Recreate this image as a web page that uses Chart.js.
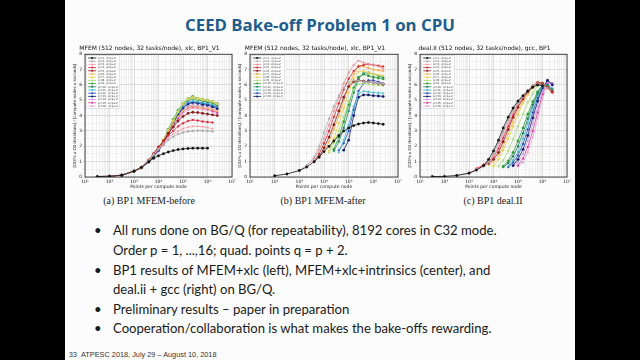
<!DOCTYPE html>
<html><head><meta charset="utf-8">
<script src="https://cdn.jsdelivr.net/npm/chart.js@4.4.1/dist/chart.umd.min.js"></script>
<style>
html,body{margin:0;padding:0;background:#000;width:640px;height:360px;overflow:hidden}
#slide{position:absolute;left:65px;top:0;width:510px;height:360px;background:#fcfcfc}
.cv{position:absolute}
#title{position:absolute;left:65px;width:510px;top:12px;height:26px;line-height:26px;text-align:center;font-family:"Open Sans";font-weight:700;color:#1e5c8c;white-space:nowrap}
.cap{position:absolute;width:140px;top:195px;height:12px;line-height:12px;text-align:center;font-family:"Liberation Serif";font-size:10px;color:#222;white-space:nowrap}
.ln{position:absolute;left:113px;height:20px;line-height:20px;font-family:"Lato";color:#1a1a1a;white-space:nowrap}
.bu{position:absolute;left:94px;height:20px;line-height:20px;font-family:"Lato";color:#1a1a1a}
#foot{position:absolute;left:81px;top:349px;height:12px;line-height:12px;font-family:"Liberation Sans";color:#333;white-space:nowrap}
#pg{position:absolute;left:69px;top:349px;height:12px;line-height:12px;font-family:"Liberation Sans";font-size:7px;color:#333}
</style>
</head><body>
<div id="slide"></div>
<div id="title">CEED Bake-off Problem 1 on CPU</div>
<canvas id="ca" class="cv" width="171" height="149" style="left:67px;top:41px"></canvas>
<canvas id="cb" class="cv" width="172" height="149" style="left:232px;top:41px"></canvas>
<canvas id="cc" class="cv" width="171" height="149" style="left:402px;top:41px"></canvas>
<div class="cap" style="left:79px">(a) BP1 MFEM-before</div>
<div class="cap" style="left:253px">(b) BP1 MFEM-after</div>
<div class="cap" style="left:423px">(c) BP1 deal.II</div>
<div class="bu" style="top:220px">•</div>
<div class="ln" id="l1" style="top:220px">All runs done on BG/Q (for repeatability), 8192 cores in C32 mode.</div>
<div class="ln" style="top:240px">Order p = 1, ...,16; quad. points q = p + 2.</div>
<div class="bu" style="top:260px">•</div>
<div class="ln" style="top:260px">BP1 results of MFEM+xlc (left), MFEM+xlc+intrinsics (center), and</div>
<div class="ln" style="top:279px">deal.ii + gcc (right) on BG/Q.</div>
<div class="bu" style="top:299px">•</div>
<div class="ln" style="top:299px">Preliminary results – paper in preparation</div>
<div class="bu" style="top:318px">•</div>
<div class="ln" style="top:318px">Cooperation/collaboration is what makes the bake-offs rewarding.</div>
<div id="pg">33</div>
<div id="foot">ATPESC 2018, July 29 – August 10, 2018</div>
<script>
// ---------- data ----------
const X_POINTS = [32, 100, 316, 1000, 2000, 4000, 6300, 10000, 16000, 25000, 40000, 63000, 100000, 160000, 250000, 400000, 630000, 1000000, 1600000, 2500000];
const X_TICK_LABELS = ['10¹','10²','10³','10⁴','10⁵','10⁶','10⁷'];
const Y_TICK_LABELS = ['0','1','2','3','4','5','6','7','8'];

const TITLE_A = 'MFEM (512 nodes, 32 tasks/node), xlc, BP1_V1';
const TITLE_B = 'MFEM (512 nodes, 32 tasks/node), xlc, BP1_V1';
const TITLE_C = 'deal.II (512 nodes, 32 tasks/node), gcc, BP1';

const LABELS_A = ['p=1, q=p+2','p=2, q=p+2','p=3, q=p+2','p=4, q=p+2','p=5, q=p+2','p=6, q=p+2','p=7, q=p+2','p=8, q=p+2','p=9, q=p+2','p=10, q=p+2','p=11, q=p+2','p=12, q=p+2','p=13, q=p+2','p=14, q=p+2','p=15, q=p+2','p=16, q=p+2'];
const LABELS_B = ['p=1, q=p+2','p=2, q=p+2','p=4, q=p+2','p=5, q=p+2','p=6, q=p+2','p=7, q=p+2','p=8, q=p+2','p=9, q=p+2','p=10, q=p+2','p=11, q=p+2','p=12, q=p+2','p=13, q=p+2','p=16, q=p+2'];
const LABELS_C = ['p=1, q=p+2','p=2, q=p+2','p=3, q=p+2','p=4, q=p+2','p=5, q=p+2','p=6, q=p+2','p=7, q=p+2','p=8, q=p+2','p=9, q=p+2','p=10, q=p+2','p=11, q=p+2','p=12, q=p+2','p=13, q=p+2','p=14, q=p+2','p=15, q=p+2','p=16, q=p+2'];

// (a) MFEM-before
const A_P1  = [0.03,0.05,0.12,0.38,0.63,1.0,1.22,1.38,1.52,1.63,1.72,1.79,1.83,1.86,1.88,1.88,1.88,1.88,null,null];
const A_P2  = [0.03,0.05,0.12,0.38,0.62,1.05,1.45,1.8,2.1,2.4,2.62,2.8,2.9,2.97,3.0,3.02,3.02,3.0,2.97,null];
const A_P3  = [0.03,0.05,0.12,0.38,0.62,1.08,1.48,1.85,2.2,2.55,2.8,3.0,3.15,3.25,3.3,3.3,3.28,3.22,3.15,null];
const A_P4  = [0.03,0.05,0.12,0.38,0.62,1.1,1.5,1.95,2.3,2.7,3.0,3.3,3.5,3.65,3.72,3.68,3.62,3.58,3.55,null];
const A_P5  = [null,0.05,0.12,0.38,0.62,1.1,1.52,1.95,2.35,2.85,3.25,3.65,3.95,4.15,4.22,4.2,4.15,4.1,4.05,4.0];
const A_P6  = [null,0.05,0.12,0.38,0.62,1.1,1.52,1.95,2.4,2.95,3.45,3.95,4.3,4.5,4.6,4.55,4.5,4.45,4.38,4.3];
const A_P7  = [null,0.05,0.12,0.38,0.62,1.1,1.5,1.9,2.4,3.05,3.65,4.25,4.75,5.1,5.2,5.12,5.05,5.0,4.9,4.75];
const A_P8  = [null,0.05,0.12,0.38,0.6,1.08,1.48,1.88,2.4,3.05,3.7,4.3,4.8,5.05,5.12,5.05,5.0,4.98,4.88,4.75];
const A_P9  = [null,null,0.12,0.38,0.6,1.05,1.45,1.85,2.4,3.1,3.75,4.35,4.8,5.1,5.25,5.12,5.05,5.0,4.9,4.78];
const A_P10 = [null,null,0.12,0.38,0.6,1.05,1.42,1.82,2.35,3.05,3.7,4.3,4.75,5.0,5.1,5.02,4.95,4.9,4.82,4.68];
const A_P11 = [null,null,0.12,0.38,0.6,1.02,1.4,1.8,2.3,3.0,3.62,4.2,4.65,4.9,4.95,4.9,4.85,4.8,4.72,4.6];
const A_P12 = [null,null,0.12,0.38,0.6,1.0,1.38,1.78,2.28,2.95,3.55,4.12,4.55,4.8,4.88,4.85,4.8,4.75,4.65,4.55];
const A_P13 = [null,null,0.12,0.38,0.6,1.0,1.36,1.75,2.25,2.9,3.5,4.05,4.5,4.75,4.85,4.8,4.72,4.68,4.58,4.45];
const A_P14 = [null,null,null,0.38,0.6,0.98,1.34,1.72,2.2,2.85,3.42,3.95,4.38,4.62,4.7,4.65,4.6,4.55,4.45,4.3];
const A_P15 = [null,null,null,0.38,0.6,0.97,1.32,1.7,2.15,2.8,3.35,3.85,4.28,4.5,4.58,4.55,4.5,4.42,4.32,4.2];
const A_P16 = [null,null,null,0.38,0.6,0.95,1.3,1.68,2.1,2.72,3.25,3.75,4.15,4.38,4.48,4.45,4.4,4.35,4.25,4.1];

// (b) MFEM-after
const B_P1  = [null,0.08,0.2,0.42,0.65,1.0,1.3,1.65,2.0,2.35,2.7,3.0,3.2,3.35,3.45,3.52,3.55,3.52,3.48,3.44];
const B_P2  = [null,null,null,0.45,0.75,1.3,2.0,2.9,3.8,4.6,5.3,5.8,6.15,6.3,6.28,6.22,6.18,6.15,6.12,6.08];
const B_P4  = [null,null,null,null,0.75,1.2,1.75,2.5,3.4,4.3,5.2,6.1,6.8,7.3,7.58,7.45,7.35,7.3,7.2,7.05];
const B_P5  = [null,null,null,null,null,1.0,1.5,2.2,3.0,3.9,4.8,5.7,6.4,6.9,7.2,7.3,7.35,7.3,7.25,7.2];
const B_P6  = [null,null,null,null,null,null,1.3,1.9,2.6,3.4,4.3,5.2,5.9,6.2,6.3,6.25,6.2,6.15,6.1,6.05];
const B_P7  = [null,null,null,null,null,null,null,1.7,2.3,3.1,4.0,5.0,5.9,6.7,7.25,7.2,7.1,7.0,6.95,6.9];
const B_P8  = [null,null,null,null,null,null,null,null,1.7,2.5,3.5,4.5,5.5,6.4,6.85,6.9,6.8,6.7,6.65,6.6];
const B_P9  = [null,null,null,null,null,null,null,null,1.6,2.2,3.0,3.9,4.9,5.7,6.05,6.1,6.05,6.0,5.98,5.95];
const B_P10 = [null,null,null,null,null,null,null,null,null,1.8,2.6,3.6,4.7,5.8,6.5,6.7,6.6,6.5,6.45,6.4];
const B_P11 = [null,null,null,null,null,null,null,null,null,1.7,2.3,3.2,4.3,5.5,6.4,6.75,6.8,6.7,6.6,6.5];
const B_P12 = [null,null,null,null,null,null,null,null,null,null,1.6,2.4,3.4,4.6,5.4,5.6,5.55,5.5,5.48,5.45];
const B_P13 = [null,null,null,null,null,null,null,null,null,null,1.75,2.2,3.0,4.4,5.6,6.1,6.3,6.3,6.2,6.1];
const B_P16 = [null,null,null,null,null,null,null,null,null,null,null,1.75,2.4,4.0,5.2,5.35,5.35,5.3,5.28,5.25];

// (c) deal.II
const C_P1  = [0.03,0.04,0.1,0.25,0.45,0.75,1.15,1.7,2.4,3.2,3.9,4.5,4.95,5.3,5.6,5.85,6.0,5.95,null,null];
const C_P2  = [null,null,0.1,0.25,0.45,0.7,1.0,1.5,2.2,2.95,3.7,4.35,4.85,5.25,5.6,5.9,6.05,6.0,5.8,null];
const C_P3  = [null,null,null,0.3,0.5,0.7,0.95,1.35,2.0,2.75,3.5,4.2,4.75,5.2,5.6,5.95,6.1,6.0,5.75,null];
const C_P4  = [null,null,null,null,0.55,0.8,1.0,1.3,1.85,2.55,3.3,4.05,4.7,5.2,5.6,5.95,6.15,6.05,5.8,5.5];
const C_P5  = [null,null,null,null,null,0.75,0.9,1.15,1.6,2.3,3.1,3.9,4.55,5.1,5.55,5.9,6.15,6.1,5.85,5.55];
const C_P6  = [null,null,null,null,null,null,0.75,1.0,1.4,2.0,2.8,3.6,4.35,4.95,5.45,5.85,6.15,6.1,5.85,5.55];
const C_P7  = [null,null,null,null,null,null,null,0.7,1.15,1.75,2.5,3.3,4.1,4.8,5.35,5.8,6.15,6.1,5.85,5.55];
const C_P8  = [null,null,null,null,null,null,null,null,0.7,1.1,1.7,2.45,3.3,4.1,4.85,5.45,5.95,6.1,5.85,5.55];
const C_P9  = [null,null,null,null,null,null,null,null,null,0.7,1.05,1.6,2.35,3.2,4.1,4.9,5.55,6.0,5.9,5.6];
const C_P10 = [null,null,null,null,null,null,null,null,null,0.65,0.9,1.35,2.0,2.85,3.8,4.7,5.45,6.0,5.95,5.65];
const C_P11 = [null,null,null,null,null,null,null,null,null,null,0.7,1.1,1.65,2.5,3.5,4.5,5.35,5.95,6.0,5.7];
const C_P12 = [null,null,null,null,null,null,null,null,null,null,0.65,0.95,1.4,2.15,3.1,4.2,5.15,5.85,6.05,5.75];
const C_P13 = [null,null,null,null,null,null,null,null,null,null,null,0.75,1.15,1.8,2.7,3.85,4.95,5.8,6.3,6.0];
const C_P14 = [null,null,null,null,null,null,null,null,null,null,null,0.7,0.95,1.5,2.35,3.45,4.6,5.6,6.2,6.05];
const C_P15 = [null,null,null,null,null,null,null,null,null,null,null,null,0.75,1.2,1.95,3.0,4.2,5.4,6.25,6.1];
const C_P16 = [null,null,null,null,null,null,null,null,null,null,null,null,0.7,0.95,1.6,2.6,3.8,5.1,6.1,6.05];

const SERIES_A = [A_P1,A_P2,A_P3,A_P4,A_P5,A_P6,A_P7,A_P8,A_P9,A_P10,A_P11,A_P12,A_P13,A_P14,A_P15,A_P16];
const SERIES_B = [B_P1,B_P2,B_P4,B_P5,B_P6,B_P7,B_P8,B_P9,B_P10,B_P11,B_P12,B_P13,B_P16];
const SERIES_C = [C_P1,C_P2,C_P3,C_P4,C_P5,C_P6,C_P7,C_P8,C_P9,C_P10,C_P11,C_P12,C_P13,C_P14,C_P15,C_P16];

// ---------- styles ----------
const COLORS_16 = ['#111111','#a8a8a8','#f2a0a6','#d8283a','#8c1c1c','#f4b25a','#e9d24a','#a9dc78','#2e9e3a','#1c7a60','#3fb4c8','#2548b8','#0c1a6a','#c29ee0','#d8409c','#eaa4dc'];
const COLORS_13 = ['#111111','#b0b0b0','#f08a96','#d82828','#8c1c1c','#f4a640','#e9d24a','#a9dc78','#2e9e3a','#1c8a70','#3fc0d0','#2a4cc0','#0c1a6a'];
const MARKERS = ['circle','rect','triangle','rectRot','circle','triangle','rect','rectRot'];

const isMajor = v => Math.abs(Math.log10(v) - Math.round(Math.log10(v))) < 1e-9;

const framePlugin = {
  id: 'frame',
  afterDraw(chart) {
    const {ctx, chartArea: a} = chart;
    ctx.save();
    ctx.strokeStyle = '#000'; ctx.lineWidth = 0.7;
    ctx.strokeRect(a.left, a.top, a.right - a.left, a.bottom - a.top);
    ctx.restore();
  }
};

const legendPlugin = {
  id: 'miniLegend',
  afterDatasetsDraw(chart) {
    const ctx = chart.ctx, a = chart.chartArea, ds = chart.data.datasets;
    const rowH = 3.2, fs = 2.8;
    const x0 = a.left + 1.2, y0 = a.top + 1.2;
    ctx.save();
    ctx.font = fs + 'px "DejaVu Sans"';
    let maxW = 0;
    ds.forEach(d => { maxW = Math.max(maxW, ctx.measureText(d.label).width); });
    const w = 12 + maxW + 2, h = ds.length * rowH + 2;
    ctx.fillStyle = 'rgba(255,255,255,0.95)';
    ctx.strokeStyle = '#cccccc'; ctx.lineWidth = 0.5;
    ctx.fillRect(x0, y0, w, h); ctx.strokeRect(x0, y0, w, h);
    ds.forEach((d, i) => {
      const cy = y0 + 1 + rowH * (i + 0.5);
      ctx.strokeStyle = d.borderColor; ctx.lineWidth = 0.8;
      ctx.beginPath(); ctx.moveTo(x0 + 2, cy); ctx.lineTo(x0 + 10, cy); ctx.stroke();
      ctx.fillStyle = d.borderColor;
      ctx.beginPath(); ctx.arc(x0 + 6, cy, 1, 0, Math.PI * 2); ctx.fill();
      ctx.fillStyle = '#333'; ctx.textBaseline = 'middle';
      ctx.fillText(d.label, x0 + 12, cy);
    });
    ctx.restore();
  }
};

function build(id, title, labels, series, colors) {
  const datasets = series.map((ys, i) => ({
    label: labels[i],
    data: X_POINTS.map((x, j) => ({x: x, y: ys[j]})),
    borderColor: colors[i], backgroundColor: colors[i],
    borderWidth: 0.8, pointRadius: 1.2, pointBorderWidth: 0.4,
    pointStyle: MARKERS[i % MARKERS.length], tension: 0, spanGaps: false
  }));
  return new Chart(document.getElementById(id), {
    type: 'line',
    data: {datasets},
    options: {
      responsive: false, animation: false, devicePixelRatio: 1,
      layout: {padding: {left: 0, right: 6, top: 0, bottom: 0}},
      plugins: {
        legend: {display: false}, tooltip: {enabled: false},
        title: {display: true, text: title, color: '#111', font: {family: 'DejaVu Sans', size: 6, weight: 'normal'}, padding: {top: 4, bottom: 2}}
      },
      scales: {
        x: {
          type: 'logarithmic', min: 10, max: 1e7,
          afterBuildTicks: axis => {
            const t = [];
            for (let e = 1; e <= 7; e++) for (let m = 1; m <= 9; m++) { const v = m * Math.pow(10, e); if (v <= 1e7) t.push({value: v}); }
            axis.ticks = t;
          },
          afterFit: axis => { axis.height = 13; },
          ticks: {autoSkip: false, maxRotation: 0, padding: 0, color: '#222', font: {family: 'DejaVu Sans', size: 4.5},
            callback: v => isMajor(v) ? X_TICK_LABELS[Math.round(Math.log10(v)) - 1] : ''},
          grid: {lineWidth: 0.5, tickLength: 2, color: c => (c.tick && isMajor(c.tick.value)) ? '#c4c4c4' : '#e3e3e3'},
          border: {display: false},
          title: {display: true, text: 'Points per compute node', color: '#222', font: {family: 'DejaVu Sans', size: 4.5}, padding: 0}
        },
        y: {
          min: 0, max: 8,
          afterFit: axis => { axis.width = 18; },
          ticks: {stepSize: 0.5, autoSkip: false, padding: 1, color: '#222', font: {family: 'DejaVu Sans', size: 4.5},
            callback: v => Number.isInteger(v) ? Y_TICK_LABELS[v] : ''},
          grid: {lineWidth: 0.5, tickLength: 2, color: c => (c.tick && Number.isInteger(c.tick.value)) ? '#c4c4c4' : '#e6e6e6'},
          border: {display: false},
          title: {display: true, text: '[DOFs x CG iterations] / [compute nodes x seconds]', color: '#222', font: {family: 'DejaVu Sans', size: 4}, padding: {top: 5.5, bottom: 0}}
        }
      }
    },
    plugins: [legendPlugin, framePlugin]
  });
}

build('ca', TITLE_A, LABELS_A, SERIES_A, COLORS_16);
build('cb', TITLE_B, LABELS_B, SERIES_B, COLORS_13);
build('cc', TITLE_C, LABELS_C, SERIES_C, COLORS_16);

// fit text sizes to measured widths in the reference
function fit(el, family, weight, target) {
  const c = document.createElement('canvas').getContext('2d');
  c.font = weight + ' 100px ' + family;
  const w = c.measureText(el.textContent).width;
  return 100 * target / w;
}
const l1 = document.getElementById('l1');
const bodySize = fit(l1, '"Lato"', 'normal', 384);
document.querySelectorAll('.ln,.bu').forEach(e => e.style.fontSize = bodySize + 'px');
const t = document.getElementById('title');
t.style.fontSize = fit(t, '"Open Sans"', 'bold', 270) + 'px';
const f = document.getElementById('foot');
f.style.fontSize = fit(f, '"Liberation Sans"', 'normal', 136) + 'px';
</script>
</body></html>
